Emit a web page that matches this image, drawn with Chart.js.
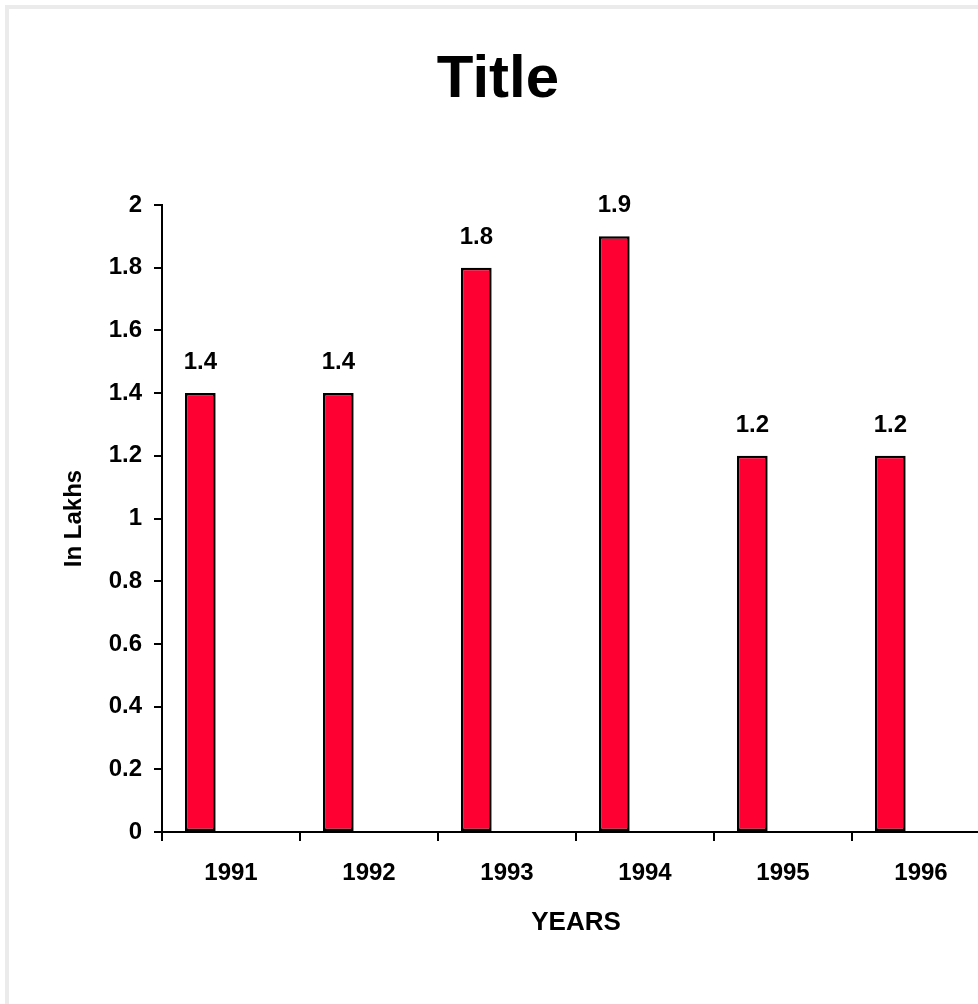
<!DOCTYPE html>
<html>
<head>
<meta charset="utf-8">
<script src="https://cdn.jsdelivr.net/npm/chart.js@4.4.1/dist/chart.umd.min.js"></script>
<style>
  html, body { margin: 0; padding: 0; background: #ffffff; overflow: hidden; width: 978px; height: 1004px; }
  #frame { position: absolute; left: 5px; top: 5px; width: 2000px; height: 2000px;
           border-left: 4px solid #ebebeb; border-top: 4px solid #ebebeb; }
  #c { position: absolute; left: 0; top: 0; }
</style>
</head>
<body>
<div id="frame"></div>
<canvas id="c" width="1000" height="1004"></canvas>
<script>
const categories = ['1991', '1992', '1993', '1994', '1995', '1996'];
const values = [1.4, 1.4, 1.8, 1.9, 1.2, 1.2];
const emptySeriesA = [null, null, null, null, null, null];
const emptySeriesB = [null, null, null, null, null, null];
const yTickLabels = ['0', '0.2', '0.4', '0.6', '0.8', '1', '1.2', '1.4', '1.6', '1.8', '2'];
const valueLabels = ['1.4', '1.4', '1.8', '1.9', '1.2', '1.2'];

const FONT = "'Liberation Sans', Arial, Helvetica, sans-serif";

const valueLabelPlugin = {
  id: 'valueLabels',
  afterDatasetsDraw(chart) {
    const ctx = chart.ctx;
    const meta = chart.getDatasetMeta(0);
    ctx.save();
    ctx.font = 'bold 24px ' + FONT;
    ctx.fillStyle = '#000000';
    ctx.textAlign = 'center';
    ctx.textBaseline = 'alphabetic';
    meta.data.forEach((bar, i) => {
      ctx.fillText(valueLabels[i], bar.x, bar.y - 24);
    });
    ctx.restore();
  }
};

new Chart(document.getElementById('c'), {
  type: 'bar',
  data: {
    labels: categories,
    datasets: [
      { label: 'Series1', data: values, backgroundColor: 'rgb(255,0,51)', borderColor: '#000000',
        borderWidth: 2.5, borderSkipped: false, barPercentage: 1, categoryPercentage: 0.6667 },
      { label: 'Series2', data: emptySeriesA, backgroundColor: 'rgb(255,0,51)',
        barPercentage: 1, categoryPercentage: 0.6667 },
      { label: 'Series3', data: emptySeriesB, backgroundColor: 'rgb(255,0,51)',
        barPercentage: 1, categoryPercentage: 0.6667 }
    ]
  },
  options: {
    responsive: false,
    animation: false,
    devicePixelRatio: 1,
    layout: { padding: { top: 44, bottom: 66, left: 6, right: 10 } },
    plugins: {
      legend: { display: false },
      tooltip: { enabled: false },
      title: {
        display: true, text: 'Title', color: '#000000',
        font: { family: FONT, size: 60, weight: 'bold', lineHeight: 1.2 },
        padding: { top: 0, bottom: 89 }
      }
    },
    scales: {
      x: {
        grid: { display: true, drawOnChartArea: false, drawTicks: true, tickLength: 9,
                color: '#000000', lineWidth: 2, offset: true },
        border: { display: true, color: '#000000', width: 2 },
        ticks: { color: '#000000', padding: 18, maxRotation: 0, autoSkip: false,
                 font: { family: FONT, size: 24, weight: 'bold' } },
        title: { display: true, text: 'YEARS', color: '#000000',
                 font: { family: FONT, size: 26, weight: 'bold', lineHeight: 1.2 },
                 padding: { top: 1, bottom: 0 } }
      },
      y: {
        min: 0, max: 2,
        grid: { display: true, drawOnChartArea: false, drawTicks: true, tickLength: 8,
                color: '#000000', lineWidth: 2 },
        border: { display: true, color: '#000000', width: 2 },
        ticks: { stepSize: 0.2, color: '#000000', padding: 12,
                 font: { family: FONT, size: 24, weight: 'bold' },
                 callback: (v, i) => yTickLabels[i] },
        title: { display: true, text: 'In Lakhs', color: '#000000',
                 font: { family: FONT, size: 24, weight: 'bold', lineHeight: 1.2 },
                 padding: { top: 54, bottom: 0 } },
        afterFit(scale) { scale.width = 156; }
      }
    }
  },
  plugins: [valueLabelPlugin]
});
</script>
</body>
</html>
